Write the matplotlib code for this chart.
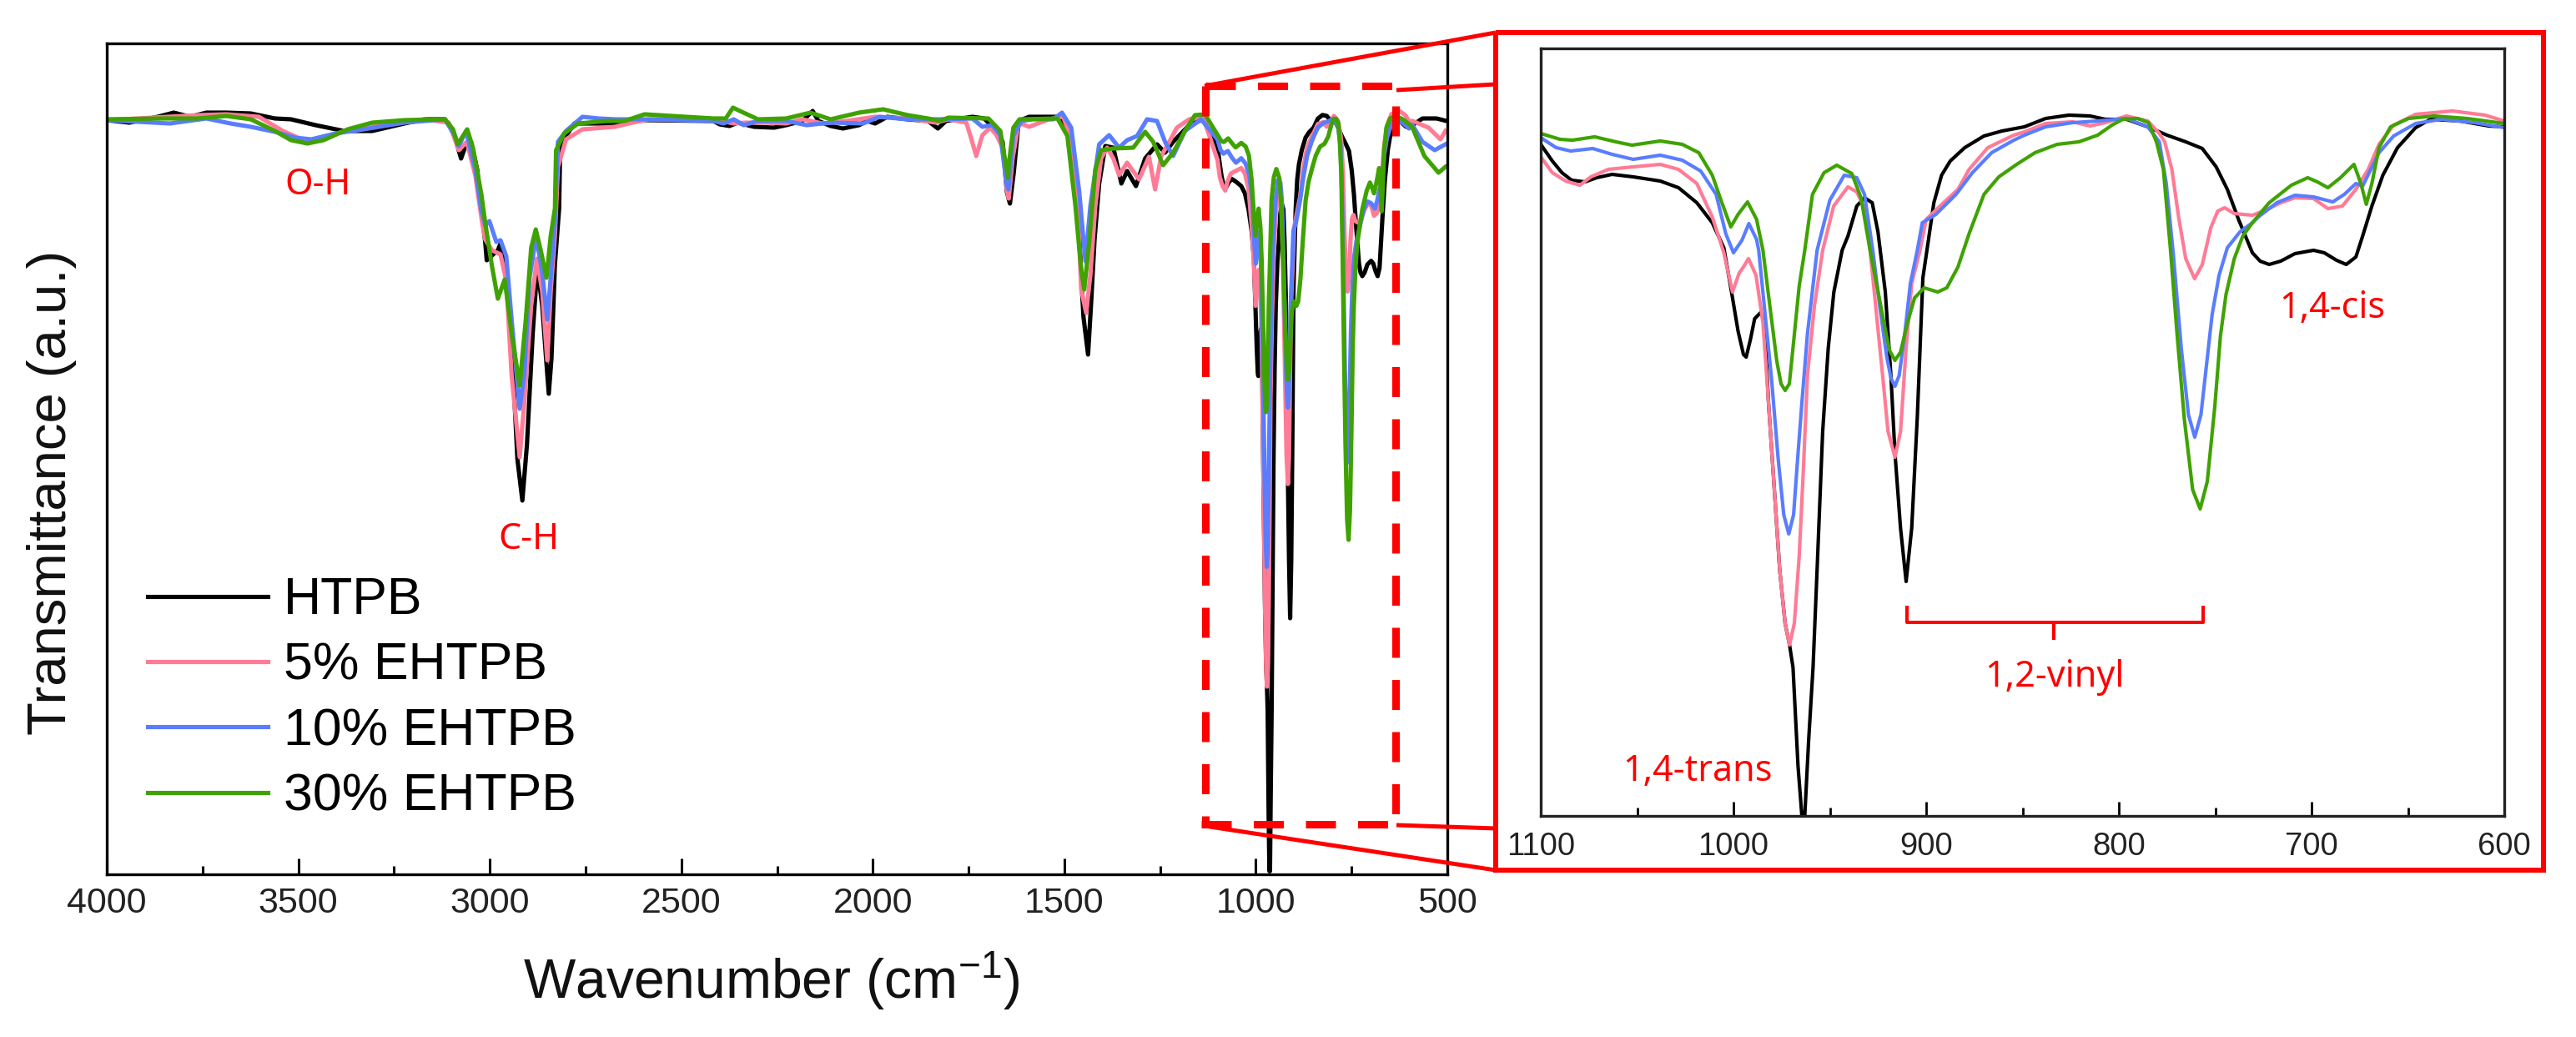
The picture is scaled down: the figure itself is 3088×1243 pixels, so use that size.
import numpy as np
import matplotlib
matplotlib.use("Agg")
import matplotlib.pyplot as plt
from matplotlib.lines import Line2D
from matplotlib.transforms import Affine2D

plt.rcParams["font.family"] = ["Liberation Sans", "DejaVu Sans"]
plt.rcParams["mathtext.fontset"] = "custom"
plt.rcParams["mathtext.rm"] = "Liberation Sans"
plt.rcParams["mathtext.default"] = "regular"

labels = ["HTPB", "5% EHTPB", "10% EHTPB", "30% EHTPB"]
colors = ["#000000", "#FF7B96", "#5A7DFF", "#3FA200"]

# full range spectra, 4000 to about 1100 cm-1 (wavenumber, transmittance a.u.)
htpb_wide = [(4000, 904), (3941, 901), (3867, 908), (3825, 913), (3783, 908), (3740, 913), (3688, 913), (3624, 912),
             (3561, 906), (3519, 905), (3455, 898), (3381, 891), (3307, 891), (3223, 900), (3170, 905), (3117, 905),
             (3096, 891), (3075, 858), (3065, 871), (3049, 878), (3033, 845), (3012, 758), (3008, 736), (2994, 742),
             (2979, 748), (2972, 756), (2957, 721), (2943, 638), (2928, 498), (2915, 448), (2903, 515), (2888, 648),
             (2876, 728), (2863, 681), (2853, 618), (2846, 576), (2839, 618), (2830, 731), (2819, 798), (2816, 875),
             (2779, 900), (2695, 900), (2648, 901), (2596, 904), (2416, 903), (2400, 899), (2374, 897), (2353, 901),
             (2310, 896), (2258, 895), (2226, 898), (2184, 903), (2157, 915), (2142, 903), (2110, 897), (2078, 894),
             (2036, 898), (2015, 903), (1994, 900), (1962, 908), (1909, 905), (1856, 903), (1830, 894), (1809, 903),
             (1740, 908), (1709, 906), (1682, 893), (1661, 878), (1650, 818), (1642, 804), (1632, 841), (1619, 903),
             (1592, 908), (1508, 908), (1482, 878), (1466, 818), (1456, 718), (1450, 668), (1438, 623), (1430, 685),
             (1421, 761), (1409, 828), (1393, 873), (1372, 871), (1351, 828), (1336, 843), (1313, 825), (1289, 858),
             (1258, 875), (1237, 865), (1216, 878), (1174, 898), (1138, 905)]
pink_wide = [(4000, 904), (3762, 910), (3688, 911), (3603, 908), (3540, 891), (3487, 880), (3434, 881), (3381, 891),
             (3307, 899), (3170, 905), (3107, 901), (3081, 868), (3060, 878), (3038, 838), (3019, 778), (3012, 761),
             (2994, 748), (2972, 743), (2957, 711), (2943, 598), (2922, 500), (2910, 565), (2892, 681), (2877, 738),
             (2863, 698), (2850, 616), (2841, 698), (2830, 765), (2822, 848), (2801, 881), (2758, 893), (2674, 896),
             (2627, 901), (2585, 905), (2416, 905), (2363, 900), (2332, 901), (2279, 901), (2226, 900), (2184, 905),
             (2131, 900), (2068, 903), (1994, 908), (1909, 906), (1835, 901), (1803, 905), (1756, 901), (1745, 885),
             (1730, 861), (1714, 886), (1693, 895), (1677, 886), (1661, 871), (1650, 820), (1645, 810), (1635, 858),
             (1619, 901), (1592, 896), (1540, 905), (1503, 908), (1482, 881), (1466, 818), (1456, 701), (1443, 673),
             (1432, 718), (1419, 801), (1404, 858), (1388, 871), (1372, 858), (1357, 838), (1336, 853), (1305, 833),
             (1279, 860), (1263, 821), (1247, 861), (1226, 878), (1206, 895), (1174, 905), (1138, 908)]
blue_wide = [(4000, 904), (3835, 900), (3740, 906), (3677, 900), (3624, 896), (3561, 890), (3508, 883), (3466, 881),
             (3403, 888), (3329, 893), (3223, 901), (3117, 905), (3091, 885), (3081, 873), (3062, 891), (3038, 845),
             (3023, 798), (3012, 778), (3001, 783), (2983, 758), (2972, 760), (2957, 741), (2943, 665), (2922, 558),
             (2910, 598), (2896, 715), (2879, 765), (2863, 721), (2850, 665), (2841, 715), (2830, 781), (2822, 878),
             (2801, 891), (2758, 908), (2716, 906), (2670, 905), (2596, 905), (2416, 903), (2390, 900), (2363, 905),
             (2337, 898), (2300, 903), (2226, 903), (2173, 898), (2110, 901), (2025, 900), (1983, 908), (1909, 905),
             (1825, 905), (1740, 906), (1714, 896), (1688, 898), (1667, 886), (1650, 825), (1646, 821), (1633, 885),
             (1612, 903), (1581, 905), (1529, 905), (1506, 913), (1482, 895), (1461, 818), (1445, 735), (1432, 801),
             (1409, 875), (1383, 886), (1357, 871), (1336, 880), (1310, 885), (1284, 905), (1258, 903), (1237, 878),
             (1216, 861), (1185, 891), (1143, 905)]
green_wide = [(4000, 905), (3855, 906), (3762, 906), (3688, 909), (3624, 905), (3561, 891), (3519, 880), (3476, 876),
              (3434, 880), (3371, 893), (3307, 901), (3223, 904), (3117, 905), (3096, 893), (3084, 875), (3059, 893),
              (3044, 871), (3022, 815), (3012, 781), (2994, 728), (2979, 690), (2961, 713), (2943, 648), (2922, 586),
              (2906, 665), (2892, 751), (2880, 773), (2867, 748), (2852, 715), (2841, 765), (2830, 798), (2827, 868),
              (2806, 888), (2769, 900), (2695, 903), (2648, 903), (2596, 911), (2416, 906), (2384, 906), (2365, 919),
              (2347, 915), (2300, 905), (2226, 906), (2163, 913), (2110, 905), (2036, 913), (1973, 917), (1909, 910),
              (1856, 906), (1825, 903), (1803, 907), (1698, 906), (1667, 891), (1647, 835), (1645, 851), (1633, 895),
              (1617, 905), (1518, 906), (1492, 885), (1471, 801), (1456, 725), (1448, 701), (1435, 758), (1419, 845),
              (1404, 868), (1372, 870), (1320, 871), (1289, 890), (1268, 878), (1242, 850), (1216, 865), (1185, 891),
              (1159, 910), (1133, 911)]

# 1100 to 600 cm-1
htpb_zoom = [(1100, 805), (1094, 785), (1089, 771), (1084, 762), (1077, 760), (1071, 765), (1063, 769), (1052, 766),
             (1038, 761), (1028.5, 753), (1019, 735), (1011, 711), (1005, 681), (1001, 628), (997.6, 581),
             (994.8, 553), (993.4, 550), (991.2, 571), (989, 596), (986.1, 603), (984, 595), (981.8, 495),
             (978.9, 395), (976, 295), (973.2, 231), (970.9, 205), (969.1, 178), (966.5, 60), (964.5, 0), (963, 0),
             (961, 90), (958.7, 178), (956.6, 295), (953.7, 461), (950.8, 561), (947.9, 628), (943.6, 678),
             (940.6, 695), (936, 731), (932, 741), (928, 735), (925, 700), (921.2, 628), (918.3, 528), (916.2, 435),
             (913.3, 345), (910.4, 281), (907.5, 345), (904.6, 478), (901.7, 645), (899.6, 678), (896, 735),
             (892, 768), (887.5, 785), (880, 801), (870, 815), (860.6, 821), (849, 826), (838, 836), (826, 840),
             (815, 839), (807, 835), (796, 835), (785, 826), (775, 816), (765.3, 808), (756.7, 800), (749.5, 778),
             (743.7, 751), (737.9, 715), (730.7, 675), (726.7, 665), (722, 661), (716, 665), (708.6, 674), (699, 678),
             (693.4, 675), (687, 666), (682, 661), (677, 670), (673.5, 695), (668.7, 731), (663, 768), (655.4, 801),
             (646, 825), (638.3, 835), (623, 833), (608, 827), (600, 826)]
pink_zoom = [(1100, 790), (1094, 771), (1087, 761), (1079.7, 756), (1074, 766), (1065, 775), (1052, 778), (1038, 781),
             (1028.5, 775), (1019, 758), (1011, 718), (1005, 675), (1000.5, 628), (997, 651), (994.8, 658),
             (992.2, 668), (988.3, 648), (984.7, 591), (981.8, 495), (978.9, 395), (976, 295), (973.2, 231),
             (970.9, 205), (968.4, 231), (965.9, 311), (963.8, 411), (961.6, 528), (958, 611), (953.7, 678), (948, 731),
             (940.6, 754), (936, 748), (932, 728), (929.1, 678), (925.5, 595), (922.6, 528), (919.8, 461), (916.2, 430),
             (913.3, 461), (910.4, 561), (907.5, 638), (903.2, 678), (900, 715), (891, 735), (883.5, 751), (877.7, 775),
             (868, 801), (854.5, 816), (849, 820), (838, 830), (824, 832), (815, 827), (807, 831), (796, 839),
             (785, 833), (779, 818), (776.2, 808), (772.5, 775), (769, 718), (765.3, 668), (760.7, 644), (756.7, 661),
             (752.3, 705), (748.7, 725), (745.1, 729), (740.1, 722), (730.7, 720), (724, 726), (716, 735), (708.6, 741),
             (699, 740), (691.5, 728), (684, 731), (677, 751), (670.6, 775), (665, 805), (657.4, 828), (646, 841),
             (627, 845), (610, 840), (600, 833)]
blue_zoom = [(1100, 813), (1092, 801), (1084.5, 797), (1073, 800), (1063, 793), (1052, 787), (1038, 792), (1026.6, 786),
             (1017, 773), (1009, 745), (1004, 698), (1000, 675), (995.6, 690), (992, 710), (988, 691), (986.9, 678),
             (984, 611), (980.4, 528), (976.8, 428), (973.9, 361), (971.3, 338), (968.8, 361), (966.7, 428),
             (964.5, 495), (961.6, 578), (956.6, 678), (950, 738), (942.5, 768), (936, 765), (932, 745), (927.7, 678),
             (924.1, 611), (920.5, 551), (918.3, 525), (916.2, 515), (914, 528), (911.1, 578), (908.2, 638),
             (904.6, 678), (902, 711), (895, 721), (884.5, 745), (876, 771), (866, 795), (854.5, 810), (849, 816),
             (838, 826), (824, 831), (811, 833), (796, 836), (785, 826), (779, 808), (775.4, 758), (771.8, 675),
             (767.5, 558), (763.9, 481), (760.6, 454), (757.4, 481), (754.5, 541), (751.6, 601), (748, 648),
             (743.7, 681), (737.2, 700), (730.7, 711), (727.6, 718), (718, 735), (708.6, 744), (699, 742), (689, 736),
             (683, 745), (677, 758), (673.5, 755), (665, 795), (657.4, 815), (646, 830), (632.6, 835), (615.5, 831),
             (600, 825)]
green_zoom = [(1100, 818), (1090, 811), (1083.6, 810), (1072, 814), (1061, 808), (1052.7, 804), (1038, 809),
              (1026.6, 805), (1018, 795), (1011, 768), (1006, 735), (1001.4, 706), (997.6, 721), (992.7, 736),
              (988, 715), (984.7, 678), (981.1, 611), (977.5, 545), (975.3, 518), (973.2, 510), (971, 518),
              (968.8, 568), (965.9, 635), (963, 678), (959, 745), (953, 771), (946.4, 780), (938.6, 770), (933.8, 741),
              (929.1, 678), (925.5, 635), (921.9, 591), (919, 558), (916.2, 546), (913.3, 556), (909.7, 591),
              (906, 621), (901, 633), (894, 628), (889.3, 633), (883.5, 658), (877.7, 698), (870, 745), (862.3, 766),
              (853, 781), (843.5, 795), (832, 805), (820.7, 808), (811, 816), (803.6, 828), (798, 835), (790.3, 836),
              (784.6, 831), (780.5, 808), (776.9, 775), (773.3, 681), (769.7, 575), (766, 475), (761.7, 391),
              (757.8, 368), (754.1, 401), (750.2, 491), (747.3, 575), (744.4, 625), (740.1, 668), (735.7, 695),
              (730.7, 711), (722, 735), (710.5, 756), (702, 765), (697, 760), (691.5, 753), (685, 765), (678, 781),
              (674.4, 758), (671.6, 733), (668.7, 758), (665, 801), (659, 826), (649.7, 836), (636.4, 839),
              (619.3, 836), (600, 830)]

# below 600 cm-1, only in the full range panel
htpb_tail = [(591, 898), (565, 906), (528, 906), (502, 903)]
pink_tail = [(591, 903), (549, 895), (518, 881), (505, 891)]
blue_tail = [(591, 898), (565, 878), (533, 868), (505, 875)]
green_tail = [(591, 895), (560, 861), (523, 841), (505, 848)]

wide_sets = [htpb_wide, pink_wide, blue_wide, green_wide]
zoom_sets = [htpb_zoom, pink_zoom, blue_zoom, green_zoom]
tail_sets = [htpb_tail, pink_tail, blue_tail, green_tail]

W, H = 3088, 1243
fig = plt.figure(figsize=(W / 100, H / 100), dpi=100, facecolor="white")
px = Affine2D().scale(1 / W, -1 / H).translate(0, 1) + fig.transFigure


def add_axes_px(left, top, right, bottom):
    return fig.add_axes([left / W, 1 - bottom / H, (right - left) / W, (bottom - top) / H])


def red_line(xs, ys, width, **kw):
    fig.add_artist(Line2D(xs, ys, color="#FF0000", lw=width * 0.72, transform=px,
                          solid_capstyle=kw.pop("cap", "butt"), **kw))


def red_text(x, y, s):
    fig.text(x, y, s, transform=px, color="#FF0000", fontsize=31, family="Noto Sans",
             ha="center", va="center")


# full range panel
ax = add_axes_px(128, 52, 1735, 1048)
for wide, zoom, tail, c, lab in zip(wide_sets, zoom_sets, tail_sets, colors, labels):
    w_x, w_y = np.array(wide).T
    z_x, z_y = np.array(zoom).T
    t_x, t_y = np.array(tail).T
    # the enlarged panel has a slightly smaller y scale than this one
    z_y = 908 - (838 - z_y) * 1.079
    ax.plot(np.r_[w_x, z_x, t_x], np.r_[w_y, z_y, t_y], color=c, lw=3.7, label=lab,
            solid_joinstyle="round")
ax.set_xlim(4000, 500)
ax.set_ylim(0, 996)
ax.set_yticks([])
ax.set_xticks(np.arange(4000, 499, -500))
ax.set_xticks(np.arange(3750, 500, -500), minor=True)
ax.tick_params(axis="x", which="major", direction="in", length=14, width=2.2, pad=11,
               labelsize=31, labelcolor="#222222")
ax.tick_params(axis="x", which="minor", direction="in", length=7, width=2.2)
for s in ax.spines.values():
    s.set_linewidth(2.4)
ax.legend(loc="upper left", bbox_to_anchor=(0.0305, 0.359), frameon=False, fontsize=45, borderpad=0,
          borderaxespad=0, handlelength=2.3, handletextpad=0.3, labelspacing=0.31)

fig.text(925, 1176, "Wavenumber (cm$^{-1}$)", transform=px, fontsize=47.5, ha="center", va="center", color="#111111")
fig.text(62, 590, "Transmittance (a.u.)", transform=px, fontsize=47, rotation=90, ha="center", va="center",
         color="#111111")

# enlarged panel
ax2 = add_axes_px(1847, 58, 3002, 978)
for zoom, c in zip(zoom_sets, colors):
    z_x, z_y = np.array(zoom).T
    ax2.plot(z_x, z_y, color=c, lw=3.0, solid_joinstyle="round")
ax2.set_xlim(1100, 600)
ax2.set_ylim(0, 920)
ax2.set_yticks([])
ax2.set_xticks(np.arange(1100, 599, -100))
ax2.set_xticks(np.arange(1050, 600, -100), minor=True)
ax2.tick_params(axis="x", which="major", direction="in", length=12, width=2.0, pad=14,
                labelsize=27.5, labelcolor="#222222")
ax2.tick_params(axis="x", which="minor", direction="in", length=7, width=2.0)
for s in ax2.spines.values():
    s.set_linewidth(2.4)
    s.set_color("#222222")

# red frame, dashed box and the lines joining them
red_line([1793, 3049, 3049, 1793, 1793], [39, 39, 1043, 1043, 39], 6, solid_joinstyle="miter")
dash = (0, (36 / 9.0, 26.5 / 9.0))
red_line([1444.5, 1673], [103, 103], 9, linestyle=dash)
red_line([1444.5, 1444.5], [103, 990], 9, linestyle=dash)
red_line([1673, 1673], [127, 985], 9, linestyle=dash)
red_line([1440, 1673], [988, 988], 9, linestyle=dash)
red_line([1444, 1793], [103, 39], 5)
red_line([1674, 1793], [108, 101], 5)
red_line([1674, 1793], [989, 993], 5)
red_line([1444, 1793], [990, 1043], 5)

# bracket under the 1,2-vinyl bands
red_line([2286, 2286, 2641, 2641], [726, 746, 746, 726], 4)
red_line([2462, 2462], [746, 767], 4)

red_text(381, 222, "O-H")
red_text(634, 647, "C-H")
red_text(2796, 370, "1,4-cis")
red_text(2463, 812, "1,2-vinyl")
red_text(2035, 925, "1,4-trans")

fig.savefig("out.png", dpi=100, facecolor="white")
